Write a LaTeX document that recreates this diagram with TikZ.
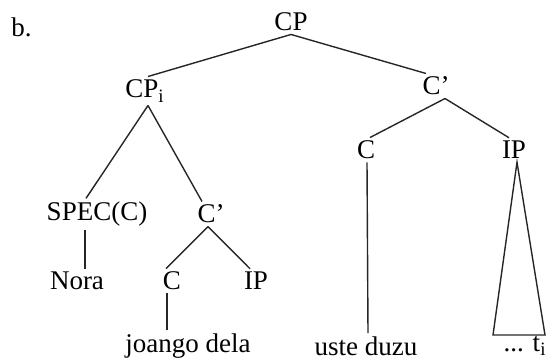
\documentclass[tikz,border=0pt]{standalone}
\usepackage{fontspec}
\setmainfont{Liberation Serif}
\begin{document}
\begin{tikzpicture}[x=0.5pt,y=-0.5pt,
  lbl/.style={inner sep=1.5pt, font=\fontsize{13.5}{15}\selectfont},
  edge/.style={line width=0.7pt, black!85}]
\useasboundingbox (0,0) rectangle (556,363);
\node[lbl, anchor=west] (b) at (8,27) {b.};
\node[lbl] (cp) at (291,22) {CP};
\node[lbl] (cpi) at (145,91) {CP\textsubscript{i}};
\node[lbl] (cbar) at (436,86) {C’};
\node[lbl] (cr) at (366,150) {C};
\node[lbl] (ipr) at (514,150) {IP};
\node[lbl] (spec) at (97,214) {SPEC(C)};
\node[lbl] (cbl) at (211,214) {C’};
\node[lbl] (nora) at (77,281) {Nora};
\node[lbl] (cl) at (172,281) {C};
\node[lbl] (ipl) at (256,281) {IP};
\node[lbl] (joango) at (188,346) {joango dela};
\node[lbl] (uste) at (366,346) {uste duzu};
\node[lbl] (ti) at (525,346) {... t\textsubscript{i}};
\coordinate (tl) at (493,335);
\coordinate (tr) at (545,335);
\draw[edge] (cp.south) -- ([xshift=1.5pt]cpi.north);
\draw[edge] (cp.south) -- ([xshift=-5pt]cbar.north);
\draw[edge] ([xshift=1.5pt]cpi.south) -- ([xshift=-5.5pt]spec.north);
\draw[edge] ([xshift=1.5pt]cpi.south) -- ([xshift=-4.5pt]cbl.north);
\draw[edge] ([xshift=-6pt]spec.south) -- ([xshift=4pt]nora.north);
\draw[edge] ([xshift=-1.5pt]cbl.south) -- ([xshift=-3pt]cl.north);
\draw[edge] ([xshift=-1.5pt]cbl.south) -- ([xshift=-3pt]ipl.north);
\draw[edge] ([xshift=-2.5pt]cl.south) -- ([xshift=-10.5pt]joango.north);
\draw[edge] ([xshift=4.5pt]cbar.south) -- ([xshift=2pt]cr.north);
\draw[edge] ([xshift=4.5pt]cbar.south) -- ([xshift=-2.5pt]ipr.north);
\draw[edge] ([xshift=0.5pt]cr.south) -- ([xshift=1pt]uste.north);
\draw[edge] ([xshift=1.5pt]ipr.south) -- (tl) -- (tr) -- cycle;
\end{tikzpicture}
\end{document}
